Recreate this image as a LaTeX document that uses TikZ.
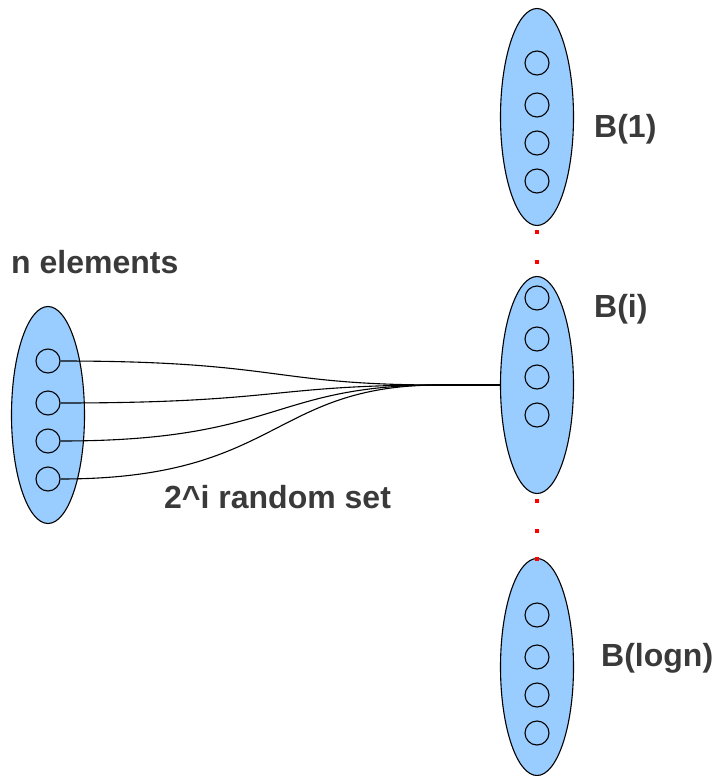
\documentclass[tikz,border=0pt]{standalone}
\usepackage{fontspec}
\setmainfont{Liberation Sans}
\usetikzlibrary{shapes.geometric}
\definecolor{setblue}{HTML}{99CCFF}
\definecolor{txtgray}{HTML}{3A3A3A}
\tikzset{
  bigset/.style={ellipse, draw=black, fill=setblue, line width=1.1pt, inner sep=0pt, minimum width=73pt, minimum height=217pt},
  elem/.style={circle, draw=black, line width=1.1pt, inner sep=0pt, minimum size=24pt},
  lbl/.style={anchor=base west, inner sep=0pt, text=txtgray, font=\fontsize{32}{38}\selectfont\bfseries},
  reddot/.style={fill=red, draw=none, minimum size=3.2pt, inner sep=0pt, rectangle},
  conn/.style={draw=black, line width=1.1pt}
}
\begin{document}
\begin{tikzpicture}[x=1pt, y=-1pt]
\useasboundingbox (0,0) rectangle (713,776);
% left set
\node[bigset] (L) at (48,415) {};
\node[elem] (L1) at (48,361) {};
\node[elem] (L2) at (48,403) {};
\node[elem] (L3) at (48,441) {};
\node[elem] (L4) at (48,479) {};
% B(1)
\node[bigset] (B1) at (537,117) {};
\node[elem] (B11) at (537,63) {};
\node[elem] (B12) at (537,105) {};
\node[elem] (B13) at (537,143) {};
\node[elem] (B14) at (537,181) {};
% B(i)
\node[bigset] (Bi) at (537,385) {};
\node[elem] (Bi1) at (537,298) {};
\node[elem] (Bi2) at (537,339) {};
\node[elem] (Bi3) at (537,377) {};
\node[elem] (Bi4) at (537,415) {};
% B(logn)
\node[bigset] (Bn) at (537,667) {};
\node[elem] (Bn1) at (537,615) {};
\node[elem] (Bn2) at (537,657) {};
\node[elem] (Bn3) at (537,695) {};
\node[elem] (Bn4) at (537,733) {};
% red dots
\node[reddot] (r1) at (537,232) {};
\node[reddot] (r2) at (537,262) {};
\node[reddot] (r3) at (537,501) {};
\node[reddot] (r4) at (537,531) {};
\node[reddot] (r5) at (537,559) {};
% connectors
\coordinate (join) at (440,385);
\draw[conn] (L1.east) .. controls +(220,0) and +(-170,0) .. (join);
\draw[conn] (L2.east) .. controls +(220,0) and +(-170,0) .. (join);
\draw[conn] (L3.east) .. controls +(220,0) and +(-170,0) .. (join);
\draw[conn] (L4.east) .. controls +(220,0) and +(-170,0) .. (join);
\draw[conn, line width=1.4pt] (join) -- (Bi.west);
% labels
\node[lbl] (tn) at (11,273) {n elements};
\node[lbl] (tb1) at (594,137) {B(1)};
\node[lbl] (tbi) at (594,317) {B(i)};
\node[lbl] (tr) at (164,508) {2\^{}i random set};
\node[lbl] (tbn) at (601,666) {B(logn)};
\end{tikzpicture}
\end{document}
